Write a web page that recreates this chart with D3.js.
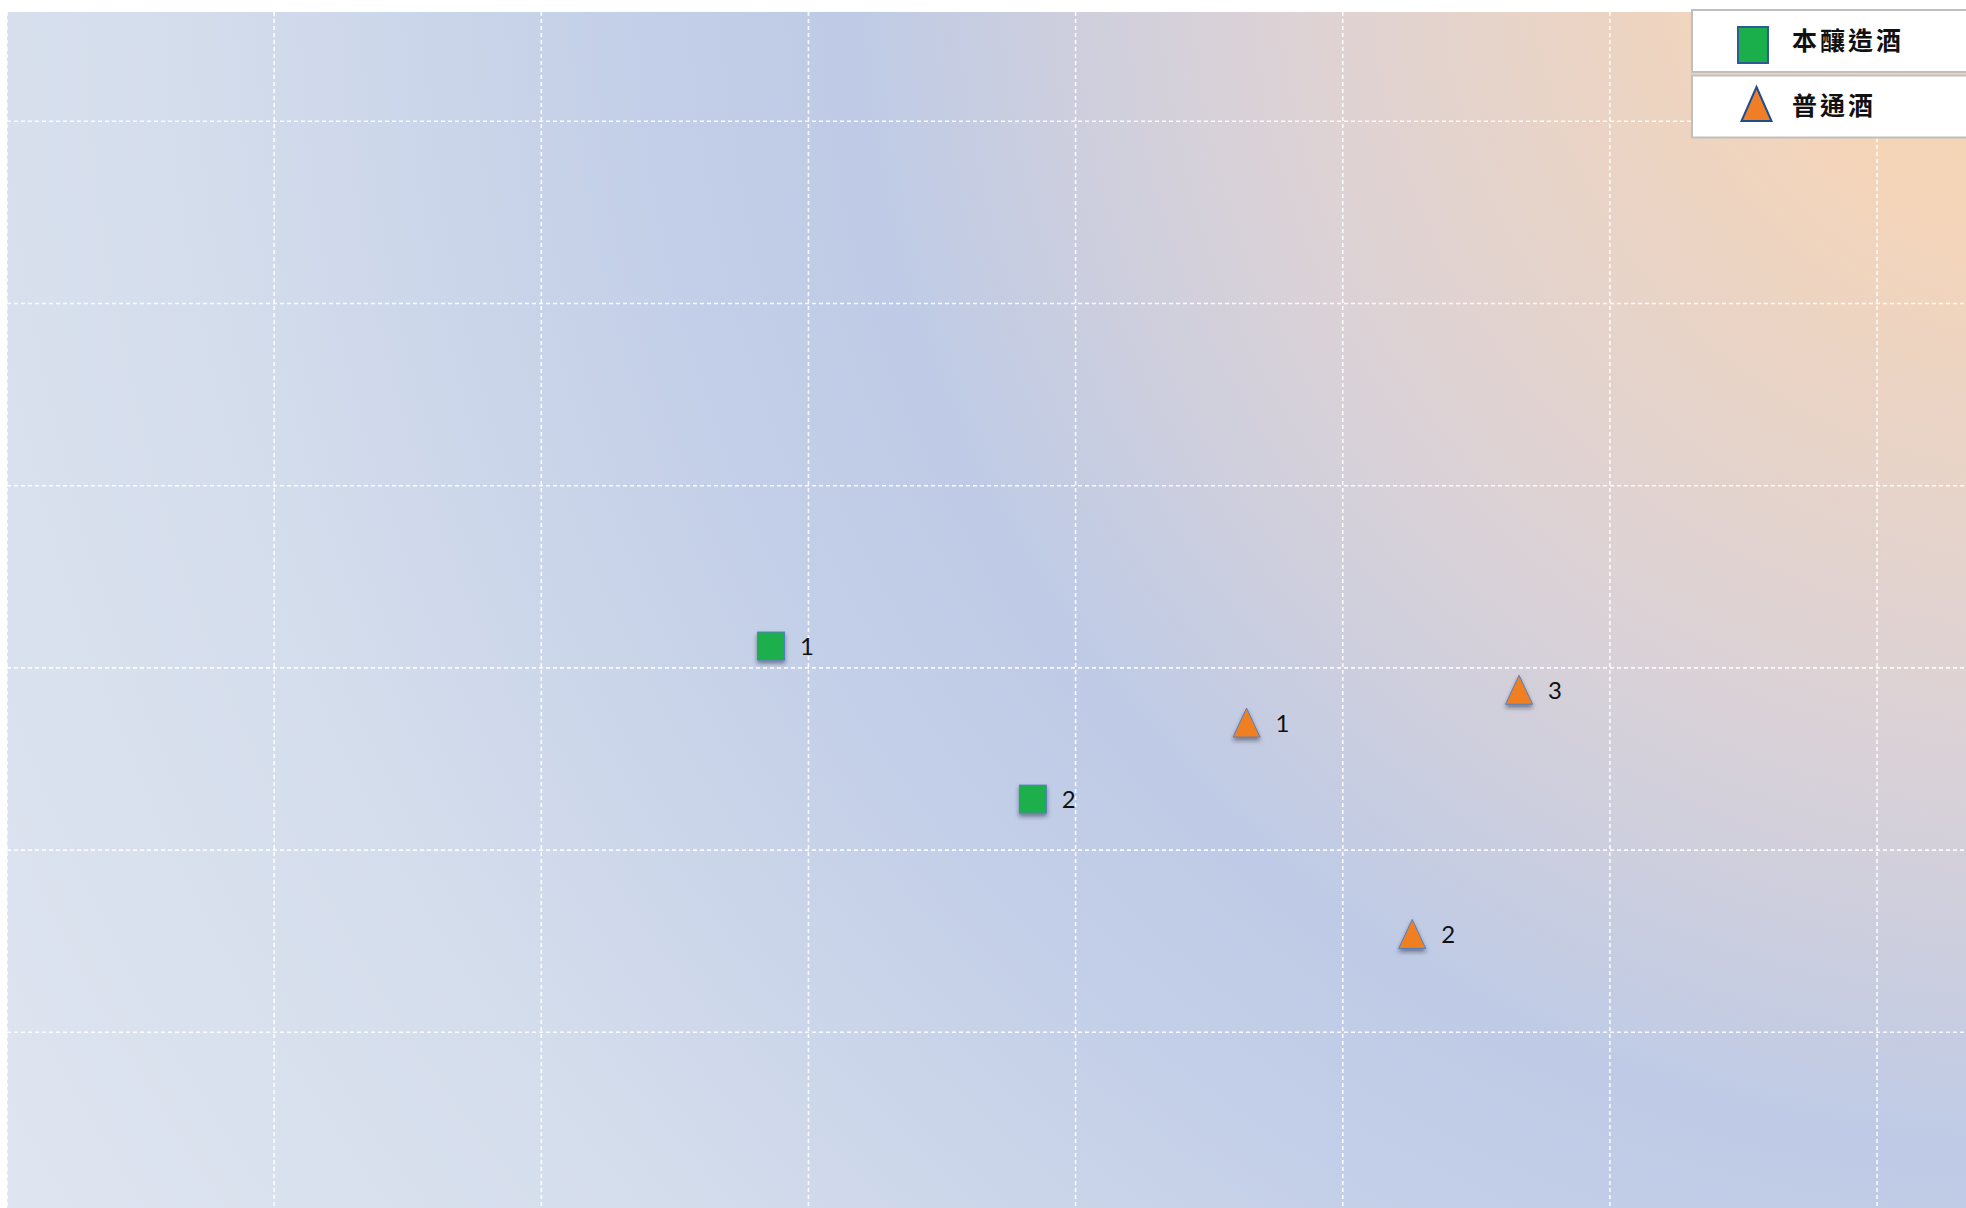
<!DOCTYPE html>
<html>
<head>
<meta charset="utf-8">
<script src="https://cdn.jsdelivr.net/npm/d3@7"></script>
<style>
  html, body { margin: 0; padding: 0; background: #ffffff; overflow: hidden; }
</style>
</head>
<body>
<script>
// series data
var seriesNames = ["本釀造酒", "普通酒"];
var honjozoX = [2.86, 3.84];
var honjozoY = [1.56, 1.14];
var honjozoLabels = ["1", "2"];
var futsuX = [4.64, 5.26, 5.66];
var futsuY = [1.35, 0.77, 1.44];
var futsuLabels = ["1", "2", "3"];

// grid ticks
var xTicks = [0, 1, 2, 3, 4, 5, 6, 7, 8];
var yTicks = [3.0, 2.5, 2.0, 1.5, 1.0, 0.5];

// dimensions
var width = 1966;
var height = 1208;
var plotLeft = 7, plotTop = 12;

var x = d3.scaleLinear().domain([0, 8]).range([plotLeft, plotLeft + 8 * 267.15]);
var y = d3.scaleLinear().domain([3.3, -0.2]).range([plotTop, plotTop + 7 * 182.2]);

var svg = d3.select("body").append("svg")
  .attr("width", width)
  .attr("height", height);

var defs = svg.append("defs");

// plot background gradient
var grad = defs.append("radialGradient")
  .attr("id", "bg")
  .attr("gradientUnits", "userSpaceOnUse")
  .attr("cx", 2050).attr("cy", -50).attr("r", 2600);
[[0, "#f8d5b1"], [0.1, "#f5d5b8"], [0.3, "#dcd2d6"], [0.46, "#bfcbe6"], [0.54, "#c3cfe8"], [0.72, "#d4ddec"], [1, "#e3e8f2"]]
  .forEach(function (s) {
    grad.append("stop").attr("offset", s[0]).attr("stop-color", s[1]);
  });

// marker shadow
var shadow = defs.append("filter").attr("id", "shadow")
  .attr("x", "-50%").attr("y", "-50%").attr("width", "200%").attr("height", "200%");
shadow.append("feDropShadow")
  .attr("dx", 0).attr("dy", 3).attr("stdDeviation", 2)
  .attr("flood-color", "#1a2233").attr("flood-opacity", 0.5);

svg.append("rect")
  .attr("x", plotLeft).attr("y", plotTop)
  .attr("width", width - plotLeft).attr("height", height - plotTop)
  .attr("fill", "url(#bg)");

// gridlines
var grid = svg.append("g")
  .attr("stroke", "#ffffff")
  .attr("stroke-width", 1.6)
  .attr("stroke-dasharray", "4,3")
  .attr("stroke-opacity", 0.9);

grid.selectAll(".vgrid")
  .data(xTicks)
  .enter().append("line")
  .attr("class", "vgrid")
  .attr("x1", function (d) { return x(d); })
  .attr("x2", function (d) { return x(d); })
  .attr("y1", plotTop)
  .attr("y2", height);

grid.selectAll(".hgrid")
  .data(yTicks)
  .enter().append("line")
  .attr("class", "hgrid")
  .attr("x1", plotLeft)
  .attr("x2", width)
  .attr("y1", function (d) { return y(d); })
  .attr("y2", function (d) { return y(d); });

// marker shapes
function trianglePath(cx, cy, w, h) {
  return "M" + cx + "," + (cy - h / 2) +
    "L" + (cx + w / 2) + "," + (cy + h / 2) +
    "L" + (cx - w / 2) + "," + (cy + h / 2) + "Z";
}

var honjozo = honjozoX.map(function (v, i) { return { x: v, y: honjozoY[i], label: honjozoLabels[i] }; });
var futsu = futsuX.map(function (v, i) { return { x: v, y: futsuY[i], label: futsuLabels[i] }; });

// 本釀造酒 squares
svg.selectAll(".sq")
  .data(honjozo)
  .enter().append("rect")
  .attr("class", "sq")
  .attr("x", function (d) { return x(d.x) - 13.5; })
  .attr("y", function (d) { return y(d.y) - 14; })
  .attr("width", 27)
  .attr("height", 28)
  .attr("fill", "#1aaf4b")
  .attr("stroke", "#4f81bd")
  .attr("stroke-width", 1)
  .attr("filter", "url(#shadow)");

// 普通酒 triangles
svg.selectAll(".tri")
  .data(futsu)
  .enter().append("path")
  .attr("class", "tri")
  .attr("d", function (d) { return trianglePath(x(d.x), y(d.y), 27, 29); })
  .attr("fill", "#f07f24")
  .attr("stroke", "#4f81bd")
  .attr("stroke-width", 1)
  .attr("filter", "url(#shadow)");

// data labels
svg.selectAll(".lbl")
  .data(honjozo.concat(futsu))
  .enter().append("text")
  .attr("class", "lbl")
  .attr("x", function (d) { return x(d.x) + 29; })
  .attr("y", function (d) { return y(d.y) + 9; })
  .attr("font-family", "Lato, 'Open Sans', sans-serif")
  .attr("font-size", 24)
  .attr("fill", "#111111")
  .text(function (d) { return d.label; });

// legend
var legend = svg.append("g").attr("class", "legend");
var legendRows = legend.selectAll("g")
  .data(seriesNames)
  .enter().append("g")
  .attr("transform", function (d, i) { return "translate(1692," + (10 + i * 65.5) + ")"; });

legendRows.append("rect")
  .attr("x", 0).attr("y", 0)
  .attr("width", 300).attr("height", 62)
  .attr("fill", "#ffffff")
  .attr("stroke", "#bfbfbf")
  .attr("stroke-width", 2);

legendRows.filter(function (d, i) { return i === 0; })
  .append("rect")
  .attr("x", 46).attr("y", 17)
  .attr("width", 30).attr("height", 36)
  .attr("fill", "#1aaf4b")
  .attr("stroke", "#2e5a95")
  .attr("stroke-width", 2);

legendRows.filter(function (d, i) { return i === 1; })
  .append("path")
  .attr("d", trianglePath(64.5, 28.5, 30, 34))
  .attr("fill", "#f07e26")
  .attr("stroke", "#1f4e8c")
  .attr("stroke-width", 2);

legendRows.append("text")
  .attr("x", 100)
  .attr("y", function (d, i) { return i === 0 ? 29 : 28; })
  .attr("dominant-baseline", "central")
  .attr("font-family", "'Noto Sans CJK TC', sans-serif")
  .attr("font-weight", "bold")
  .attr("font-size", 25)
  .attr("letter-spacing", 3)
  .attr("fill", "#111111")
  .text(function (d) { return d; });
</script>
</body>
</html>
